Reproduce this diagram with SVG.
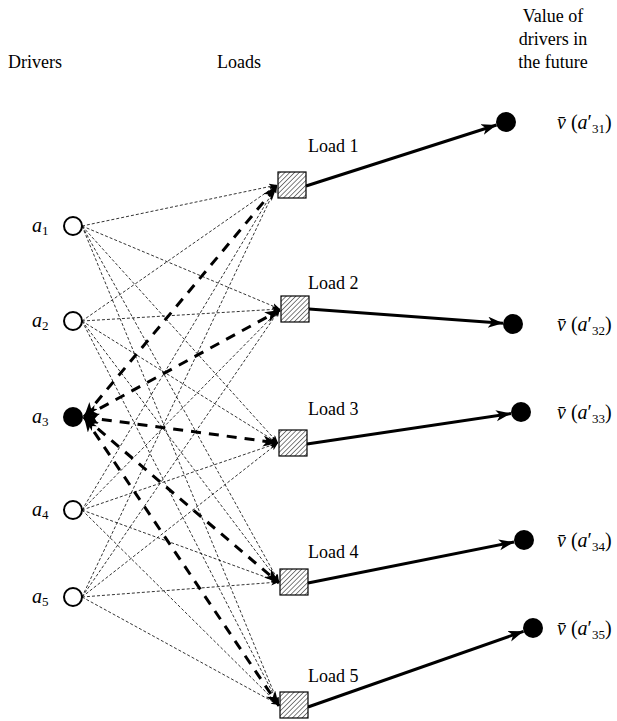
<svg xmlns="http://www.w3.org/2000/svg" width="617" height="721" viewBox="0 0 617 721">
<style>
text{font-family:"Liberation Serif","Times New Roman",serif;font-size:18px;fill:#000}
.it{font-style:italic}
.lab{font-size:20px}
.sub{font-size:13px}
.thin{fill:none;stroke:#000;stroke-width:0.8;stroke-dasharray:3 2;marker-end:url(#ah)}
.thick{fill:none;stroke:#000;stroke-width:3;stroke-dasharray:10 8;marker-end:url(#AH);marker-start:url(#AH)}
.solid{fill:none;stroke:#000;stroke-width:3;marker-end:url(#AH)}
.drv{fill:#fff;stroke:#000;stroke-width:2}
.box{fill:url(#hatch);stroke:#000;stroke-width:1.2}
.val{fill:#000}
</style>
<defs>
<pattern id="hatch" patternUnits="userSpaceOnUse" width="3.4" height="3.4" patternTransform="rotate(45)">
<rect width="3.4" height="3.4" fill="#fff"/>
<line x1="0" y1="0" x2="0" y2="3.4" stroke="#000" stroke-width="1"/>
</pattern>
<marker id="ah" markerUnits="userSpaceOnUse" markerWidth="9" markerHeight="7" refX="8" refY="3" orient="auto">
<path d="M0,0 L8,3 L0,6 L2,3 z" fill="#000"/>
</marker>
<marker id="AH" markerUnits="userSpaceOnUse" markerWidth="17" markerHeight="13" refX="15" refY="5.5" orient="auto-start-reverse">
<path d="M0,0 L15,5.5 L0,11 L4,5.5 z" fill="#000"/>
</marker>
</defs>

<g id="headers">
<text x="8" y="68">Drivers</text>
<text x="217" y="68">Loads</text>
<text x="553" y="22" text-anchor="middle">Value of</text>
<text x="553" y="45" text-anchor="middle">drivers in</text>
<text x="553" y="68" text-anchor="middle">the future</text>
</g>

<g id="connectors">
<path class="thin" d="M82,226 L277,185"/>
<path class="thin" d="M82,226 L280,309"/>
<path class="thin" d="M82,226 L278,443"/>
<path class="thin" d="M82,226 L279,582"/>
<path class="thin" d="M82,226 L279,705"/>
<path class="thin" d="M82,321 L277,185"/>
<path class="thin" d="M82,321 L280,309"/>
<path class="thin" d="M82,321 L278,443"/>
<path class="thin" d="M82,321 L279,582"/>
<path class="thin" d="M82,321 L279,705"/>
<path class="thin" d="M82,510 L277,185"/>
<path class="thin" d="M82,510 L280,309"/>
<path class="thin" d="M82,510 L278,443"/>
<path class="thin" d="M82,510 L279,582"/>
<path class="thin" d="M82,510 L279,705"/>
<path class="thin" d="M82,597 L277,185"/>
<path class="thin" d="M82,597 L280,309"/>
<path class="thin" d="M82,597 L278,443"/>
<path class="thin" d="M82,597 L279,582"/>
<path class="thin" d="M82,597 L279,705"/>
<path class="thick" d="M84,417 L277,186"/>
<path class="thick" d="M84,417 L280,310"/>
<path class="thick" d="M84,417 L278,443"/>
<path class="thick" d="M84,417 L279,583"/>
<path class="thick" d="M84,417 L279,706"/>
<path class="solid" d="M306,186 L496.5,125"/>
<path class="solid" d="M309,309 L503,323.3"/>
<path class="solid" d="M307,444 L511,413.5"/>
<path class="solid" d="M308,583 L514,542"/>
<path class="solid" d="M308,707 L523.5,631.3"/>
</g>

<g id="a1"><circle class="drv" cx="73" cy="226" r="9"/><text class="lab" x="32" y="232"><tspan class="it">a</tspan><tspan class="sub" dy="3">1</tspan></text></g>
<g id="a2"><circle class="drv" cx="73" cy="321" r="9"/><text class="lab" x="32" y="327"><tspan class="it">a</tspan><tspan class="sub" dy="3">2</tspan></text></g>
<g id="a3"><circle cx="73" cy="417" r="10" fill="#000"/><text class="lab" x="32" y="423"><tspan class="it">a</tspan><tspan class="sub" dy="3">3</tspan></text></g>
<g id="a4"><circle class="drv" cx="73" cy="510" r="9"/><text class="lab" x="32" y="516"><tspan class="it">a</tspan><tspan class="sub" dy="3">4</tspan></text></g>
<g id="a5"><circle class="drv" cx="73" cy="597" r="9"/><text class="lab" x="32" y="603"><tspan class="it">a</tspan><tspan class="sub" dy="3">5</tspan></text></g>

<g id="load1"><rect class="box" x="278" y="172" width="28" height="26"/><text x="308" y="152">Load 1</text></g>
<g id="load2"><rect class="box" x="281" y="296" width="28" height="26"/><text x="308" y="289">Load 2</text></g>
<g id="load3"><rect class="box" x="279" y="430" width="28" height="26"/><text x="308" y="415">Load 3</text></g>
<g id="load4"><rect class="box" x="280" y="569" width="28" height="26"/><text x="308" y="558">Load 4</text></g>
<g id="load5"><rect class="box" x="280" y="692" width="28" height="26"/><text x="308" y="682">Load 5</text></g>

<g id="v1"><circle class="val" cx="506" cy="122" r="10"/><text class="lab" x="557" y="129"><tspan class="it">v&#x304;</tspan> (<tspan class="it">a</tspan>′<tspan class="sub" dy="4">31</tspan><tspan dy="-4">)</tspan></text></g>
<g id="v2"><circle class="val" cx="513" cy="324" r="10"/><text class="lab" x="557" y="331"><tspan class="it">v&#x304;</tspan> (<tspan class="it">a</tspan>′<tspan class="sub" dy="4">32</tspan><tspan dy="-4">)</tspan></text></g>
<g id="v3"><circle class="val" cx="521" cy="412" r="10"/><text class="lab" x="557" y="419"><tspan class="it">v&#x304;</tspan> (<tspan class="it">a</tspan>′<tspan class="sub" dy="4">33</tspan><tspan dy="-4">)</tspan></text></g>
<g id="v4"><circle class="val" cx="524" cy="540" r="10"/><text class="lab" x="557" y="547"><tspan class="it">v&#x304;</tspan> (<tspan class="it">a</tspan>′<tspan class="sub" dy="4">34</tspan><tspan dy="-4">)</tspan></text></g>
<g id="v5"><circle class="val" cx="533" cy="628" r="10"/><text class="lab" x="557" y="635"><tspan class="it">v&#x304;</tspan> (<tspan class="it">a</tspan>′<tspan class="sub" dy="4">35</tspan><tspan dy="-4">)</tspan></text></g>
</svg>
